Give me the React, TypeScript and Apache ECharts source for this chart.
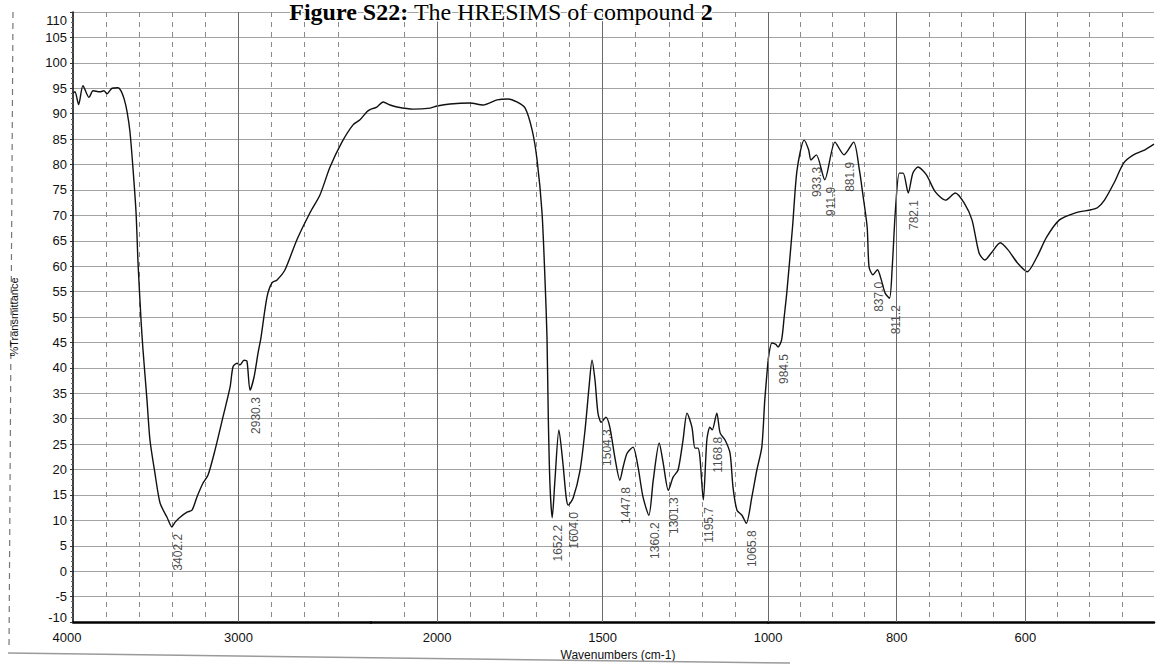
import React, { useEffect, useRef } from "react";
import * as echarts from "echarts";

// IR spectrum: wavenumber (cm-1) and %T, high to low wavenumber
const wavenumbers = [
  4000, 3988, 3966, 3940, 3903, 3879, 3837, 3813, 3795, 3764, 3728, 3710, 3692, 3674, 3656, 3637,
  3619, 3607, 3589, 3577, 3553, 3535, 3505, 3474, 3432, 3402.2, 3384, 3353, 3311, 3281, 3251, 3215,
  3184, 3142, 3094, 3051, 3033, 3009, 2991, 2967, 2949, 2930.3, 2906, 2882, 2864, 2828, 2798, 2767,
  2719, 2647, 2568, 2508, 2447, 2375, 2308, 2266, 2224, 2200, 2182, 2163, 2142, 2121, 2073, 2021,
  2000, 1961, 1901, 1861, 1819, 1786, 1759, 1734, 1713, 1698, 1683, 1674, 1668, 1664, 1659, 1652.2,
  1644, 1632, 1620, 1610, 1604.0, 1589, 1568, 1553, 1541, 1532, 1523, 1514, 1504.3, 1490, 1478, 1463,
  1447.8, 1438, 1426, 1408, 1393, 1378, 1360.2, 1347, 1329, 1317, 1301.3, 1287, 1272, 1257, 1245, 1230,
  1221, 1212, 1206, 1195.7, 1185, 1176, 1168.8, 1155, 1145, 1130, 1115, 1106, 1094, 1079, 1065.8, 1049,
  1034, 1019, 1010, 1000, 994, 988, 984.5, 979, 975, 971, 962, 955, 944, 937, 933.3, 925,
  911.9, 896, 881.9, 867, 858, 853, 846, 843, 837.0, 830, 824, 818, 811.2, 807, 802, 796,
  790, 782.1, 775, 767, 754, 740, 724, 709, 695, 683, 672, 663, 653, 639, 627, 612,
  597, 582, 567, 547, 522, 498, 488, 477, 462, 447, 432, 414, 400,
];
const transmittance = [
  94.0, 94.3, 91.8, 95.5, 93.2, 94.5, 94.3, 94.5, 93.9, 95.0, 95.1, 94.5, 93.0, 90.5, 86.5, 79.0,
  70.5, 60.6, 49.4, 43.5, 33.7, 25.8, 19.3, 13.4, 10.6, 8.7, 9.6, 10.6, 11.6, 12.0, 14.6, 17.3,
  18.9, 23.8, 30.3, 36.2, 40.2, 40.9, 40.6, 41.5, 41.3, 35.6, 38.2, 42.9, 46.0, 53.9, 56.7, 57.3,
  59.3, 65.2, 70.5, 74.0, 79.5, 84.4, 87.8, 88.8, 90.4, 90.9, 91.3, 92.3, 91.7, 91.3, 90.9, 91.1,
  91.5, 91.9, 92.1, 91.7, 92.7, 92.9, 92.3, 91.1, 86.8, 80.9, 70.5, 57.3, 46.0, 30.0, 17.0, 10.5,
  17.9, 27.8, 21.3, 14.5, 13.0, 14.4, 19.9, 27.8, 36.2, 41.5, 37.6, 31.1, 29.3, 30.3, 28.3, 22.4,
  17.9, 20.5, 23.2, 24.4, 20.5, 14.6, 11.0, 17.9, 25.2, 21.3, 15.9, 18.5, 19.9, 25.8, 31.1, 28.3,
  24.2, 24.2, 22.4, 14.0, 25.8, 28.3, 27.8, 31.1, 27.2, 25.8, 23.2, 16.5, 12.0, 11.0, 9.4, 14.6,
  19.9, 24.4, 33.7, 41.5, 44.9, 44.6, 44.1, 45.5, 50.0, 54.7, 67.7, 78.9, 84.8, 82.9, 80.9, 81.9,
  77.0, 84.4, 81.9, 84.4, 78.9, 74.4, 67.7, 59.8, 58.3, 59.3, 57.3, 54.7, 53.7, 59.8, 71.1, 78.3,
  78.3, 74.4, 78.3, 79.5, 78.0, 74.6, 73.0, 74.4, 72.4, 69.1, 62.6, 61.2, 62.6, 64.6, 63.2, 60.6,
  58.9, 61.8, 65.7, 69.1, 70.5, 71.1, 71.5, 73.0, 76.4, 80.3, 81.9, 82.9, 84.0,
];

// Annotated band positions (cm-1)
const peakLabels = [
  3402.2, 2930.3, 1652.2, 1604.0, 1504.3, 1447.8, 1360.2, 1301.3, 1195.7, 1168.8, 1065.8,
  984.5, 933.3, 911.9, 881.9, 837.0, 811.2, 782.1,
];

// Labelled wavenumber ticks (drawn with solid grid lines)
const majorTicks = [4000, 3000, 2000, 1500, 1000, 800, 600];

// The wavenumber axis changes scale twice: each segment has its own grid step
const segments = [
  { lo: 2200, hi: 4000, step: 200 },
  { lo: 1000, hi: 2200, step: 100 },
  { lo: 400, hi: 1000, step: 50 },
];

const Y_MIN = -10;
const Y_MAX = 110;
const Y_STEP = 5;

const CELL = 33.1; // px per grid division
const PLOT_LEFT = 73;
const PLOT_TOP = 12;
const PLOT_HEIGHT = 610;

const SANS = "'Liberation Sans', Arial, Helvetica, sans-serif";
const SERIF = "'Liberation Serif', 'Times New Roman', Times, serif";

export default function App() {
  const ref = useRef<HTMLDivElement>(null);

  useEffect(() => {
    if (!ref.current) return;
    const chart = echarts.init(ref.current, undefined, { renderer: "svg" });

    const grids: any[] = [];
    const xAxes: any[] = [];
    const yAxes: any[] = [];
    const series: any[] = [];

    let offset = PLOT_LEFT;
    segments.forEach((seg, i) => {
      const width = (CELL * (seg.hi - seg.lo)) / seg.step;
      grids.push({ left: offset, top: PLOT_TOP, width, height: PLOT_HEIGHT, containLabel: false });
      offset += width;

      xAxes.push({
        type: "value",
        gridIndex: i,
        inverse: true,
        min: seg.lo,
        max: seg.hi,
        interval: seg.step,
        axisLine: { show: true, onZero: false, lineStyle: { color: "#000", width: 2.5 } },
        axisTick: { show: false },
        axisLabel: {
          show: true,
          showMinLabel: true,
          showMaxLabel: true,
          margin: 9,
          fontSize: 13,
          fontFamily: SANS,
          color: "#111",
          formatter: (v: number) =>
            majorTicks.includes(v) && (v < seg.hi || i === 0)
              ? v === 4000
                ? "{lead|4000}"
                : String(v)
              : "",
          rich: { lead: { padding: [0, 12, 0, 0], fontSize: 13, fontFamily: SANS, color: "#111" } },
        },
        splitLine: {
          show: true,
          showMinLine: false,
          showMaxLine: false,
          lineStyle: { type: [5, 5], color: "#8a8a8a", width: 1 },
        },
      });

      yAxes.push({
        type: "value",
        gridIndex: i,
        min: Y_MIN,
        max: Y_MAX,
        interval: Y_STEP,
        name: i === 0 ? "%Transmittance" : "",
        nameLocation: "middle",
        nameRotate: 90,
        nameGap: 54,
        nameTextStyle: { fontSize: 11, fontFamily: SANS, color: "#111" },
        axisLine: { show: i === 0, onZero: false, lineStyle: { color: "#111", width: 1.6 } },
        axisTick: { show: i === 0, length: 3, lineStyle: { color: "#333" } },
        minorTick: { show: i === 0, splitNumber: 5, length: 2, lineStyle: { color: "#666" } },
        axisLabel: {
          show: i === 0,
          margin: 6,
          fontSize: 13,
          fontFamily: SANS,
          color: "#111",
          showMinLabel: true,
          showMaxLabel: true,
          formatter: (v: number) =>
            v === Y_MAX ? `{top|${v}}` : v === Y_MIN ? `{bottom|${v}}` : String(v),
          rich: {
            top: { padding: [16, 0, 0, 0], fontSize: 13, fontFamily: SANS, color: "#111" },
            bottom: { padding: [0, 0, 10, 0], fontSize: 13, fontFamily: SANS, color: "#111" },
          },
        },
        splitLine: { show: true, lineStyle: { color: "#a3a3a3", width: 1 } },
      });

      const pts: number[][] = [];
      wavenumbers.forEach((w, k) => {
        if (w >= seg.lo && w <= seg.hi) pts.push([w, transmittance[k]]);
      });

      series.push({
        type: "line",
        xAxisIndex: i,
        yAxisIndex: i,
        data: pts,
        showSymbol: false,
        smooth: 0.25,
        lineStyle: { color: "#111", width: 1.4 },
        z: 3,
        markLine: {
          silent: true,
          symbol: ["none", "none"],
          label: { show: false },
          lineStyle: { type: "solid", color: "#6a6a6a", width: 1 },
          data: majorTicks.filter((v) => v >= seg.lo && v < seg.hi).map((v) => ({ xAxis: v })),
        },
      });

      const peaks = peakLabels
        .filter((w) => w >= seg.lo && w <= seg.hi)
        .map((w) => [w, transmittance[wavenumbers.indexOf(w)]]);

      series.push({
        type: "scatter",
        xAxisIndex: i,
        yAxisIndex: i,
        data: peaks,
        symbolSize: 1,
        itemStyle: { color: "transparent" },
        z: 4,
        label: {
          show: true,
          position: [6.5, 7.5],
          rotate: 90,
          align: "right",
          verticalAlign: "middle",
          fontSize: 12,
          fontFamily: SANS,
          color: "#1a1a1a",
          formatter: (p: any) => Number(p.value[0]).toFixed(1),
        },
      });
    });

    chart.setOption({
      animation: false,
      backgroundColor: "#ffffff",
      grid: grids,
      xAxis: xAxes,
      yAxis: yAxes,
      series,
      graphic: [
        {
          type: "text",
          x: 501,
          y: 0,
          z: 10,
          style: {
            text: "{b|Figure S22:} The HRESIMS of compound {b|2}",
            fontSize: 24,
            fontFamily: SERIF,
            fill: "#000",
            stroke: "#fff",
            lineWidth: 3,
            align: "center",
            verticalAlign: "top",
            rich: {
              b: {
                fontWeight: "bold",
                fontSize: 24,
                fontFamily: SERIF,
                fill: "#000",
                stroke: "#fff",
                lineWidth: 3,
              },
            },
          },
        },
        {
          type: "text",
          x: 618,
          y: 655,
          style: {
            text: "Wavenumbers (cm-1)",
            fontSize: 12,
            fontFamily: SANS,
            fill: "#111",
            align: "center",
            verticalAlign: "middle",
          },
        },
        {
          type: "line",
          shape: { x1: 13, y1: 12, x2: 9, y2: 650 },
          style: { stroke: "#777", lineWidth: 1.2, lineDash: [6, 5] },
        },
        {
          type: "line",
          shape: { x1: 8, y1: 653, x2: 790, y2: 663 },
          style: { stroke: "#9a9a9a", lineWidth: 1.5 },
        },
      ],
    });

    return () => chart.dispose();
  }, []);

  return (
    <div
      ref={ref}
      style={{ position: "fixed", left: 0, top: 0, width: 1157, height: 664, background: "#fff" }}
    />
  );
}
